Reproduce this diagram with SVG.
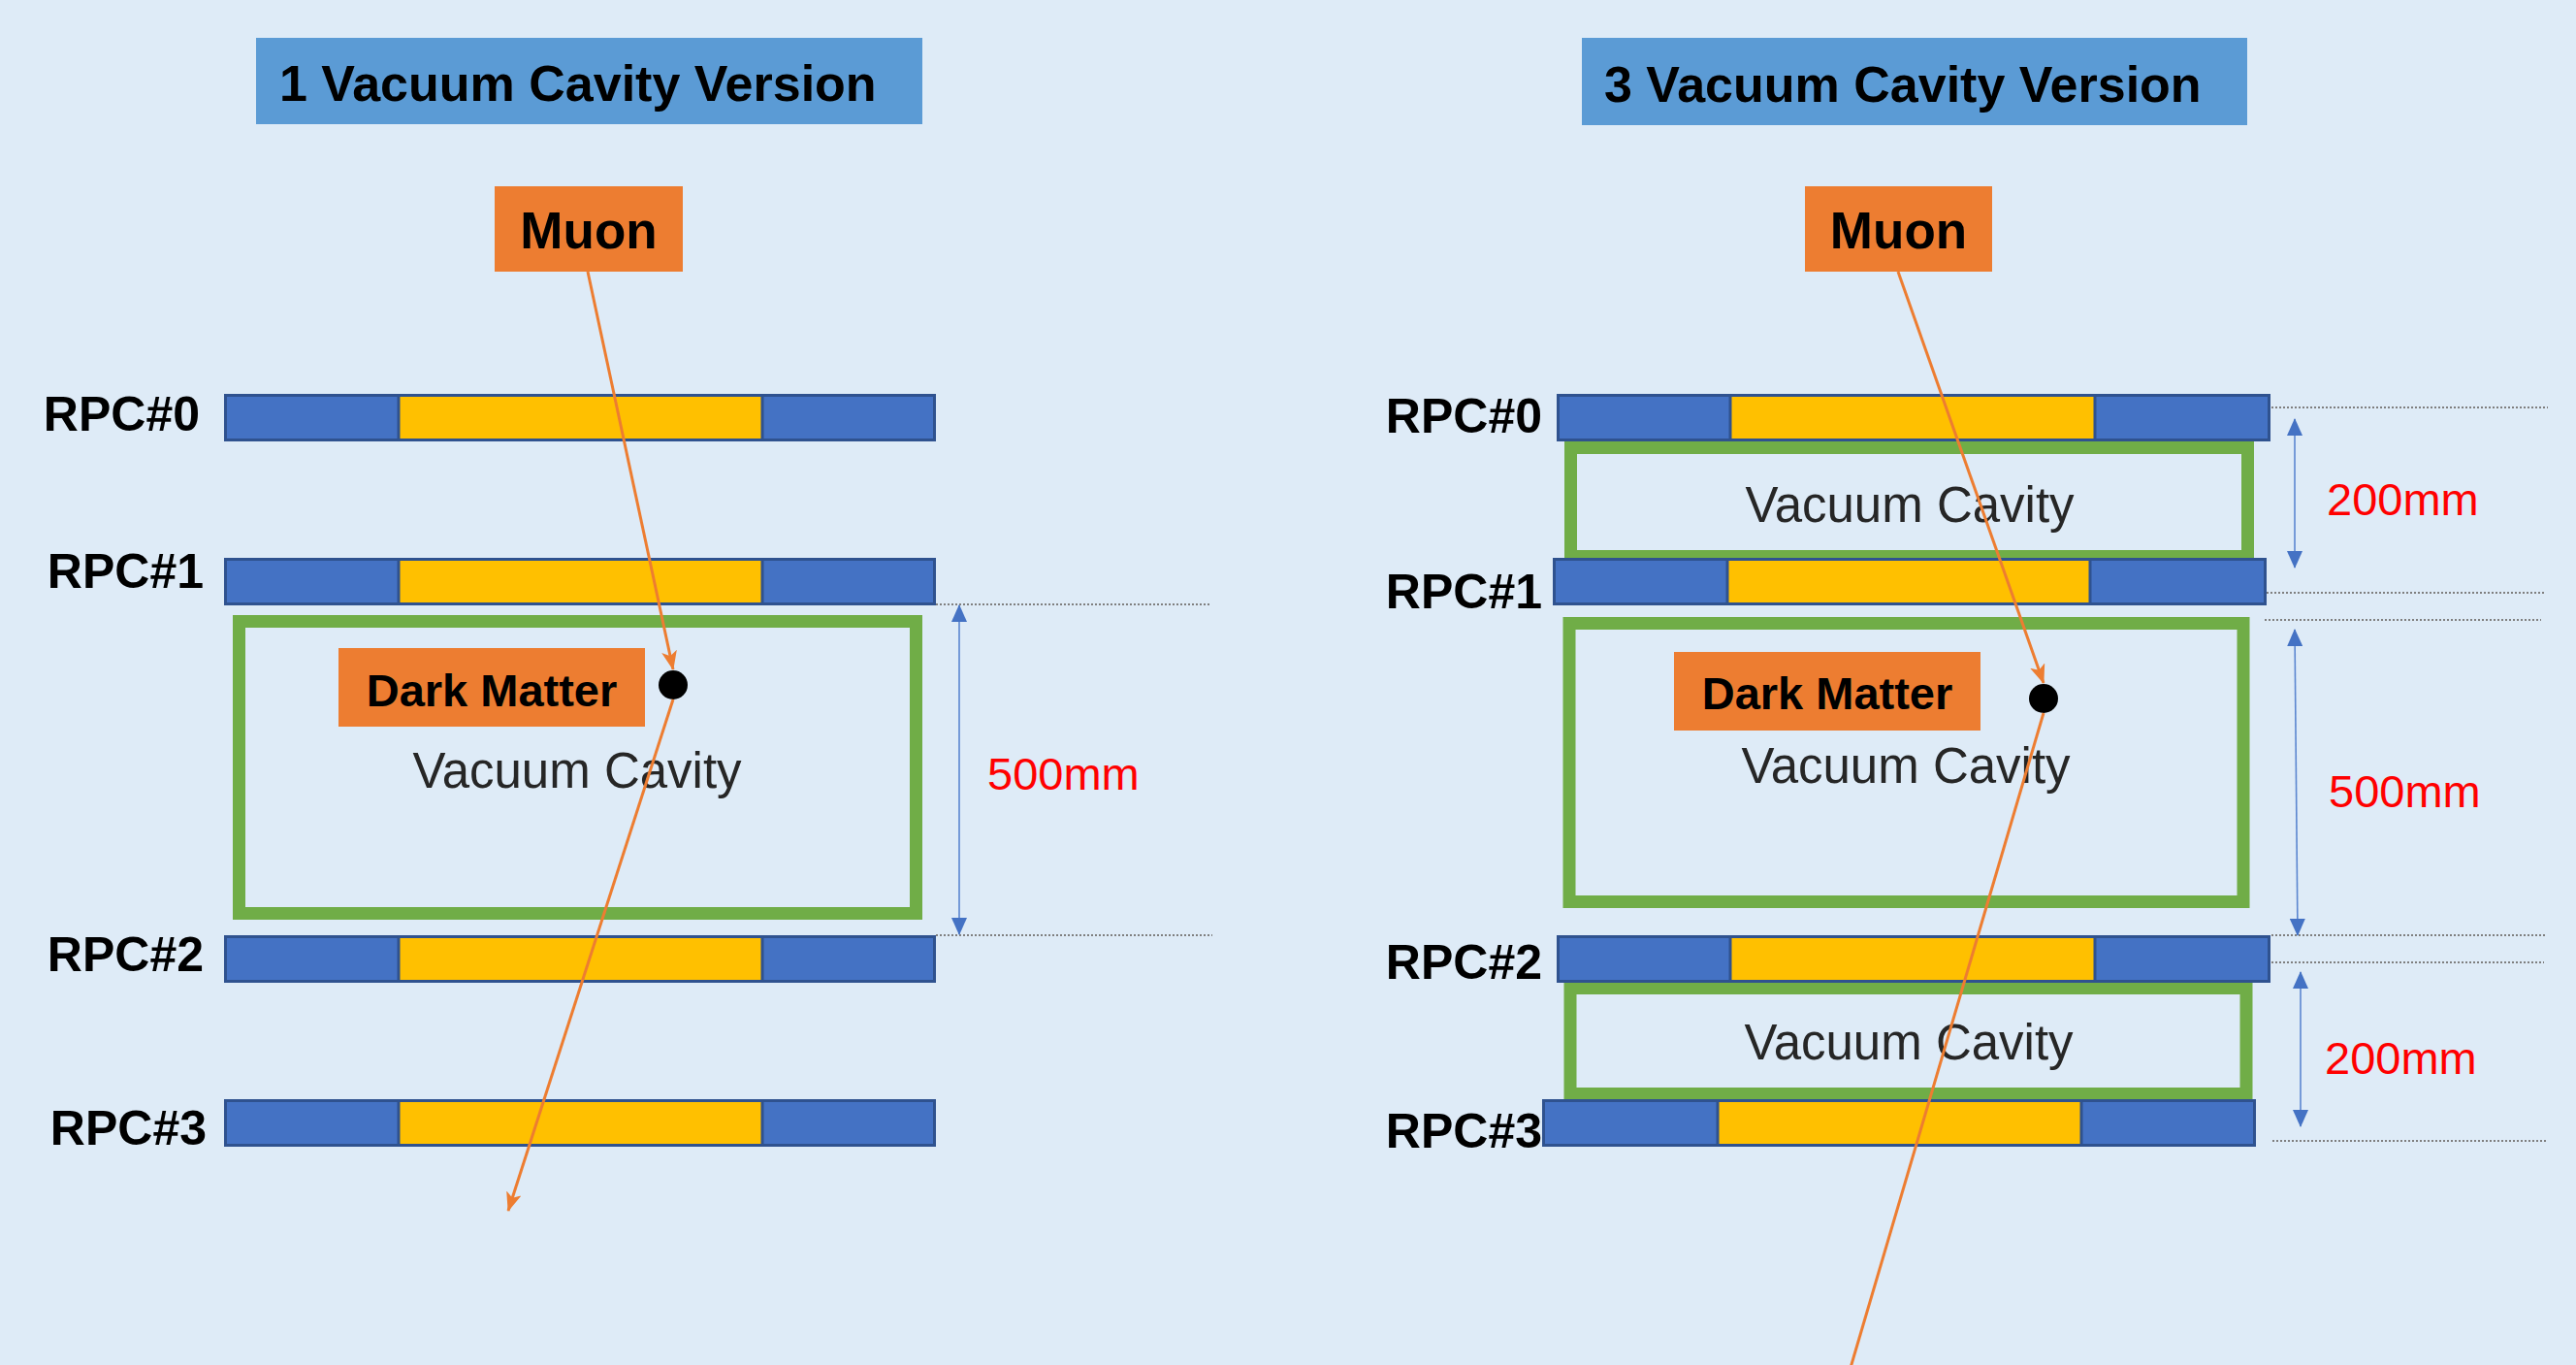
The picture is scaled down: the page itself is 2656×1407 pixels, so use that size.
<svg xmlns="http://www.w3.org/2000/svg" width="2656" height="1407" viewBox="0 0 2656 1407">
<style>
.bg{fill:#DEEBF7}
.title{fill:#5B9BD5}
.tt{font-family:"Liberation Sans",Arial,sans-serif;font-weight:bold;font-size:52px;fill:#000}
.ob{fill:#ED7D31}
.ot{font-family:"Liberation Sans",Arial,sans-serif;font-weight:bold;fill:#000;text-anchor:middle}
.rl{font-family:"Liberation Sans",Arial,sans-serif;font-weight:bold;font-size:50px;fill:#000;text-anchor:end}
.rb{fill:#4472C4;stroke:#2F528F;stroke-width:3}
.ry{fill:#FFC000;stroke:#2F528F;stroke-width:3}
.cav{fill:none;stroke:#70AD47;stroke-width:13}
.vc{font-family:"Liberation Sans",Arial,sans-serif;font-size:51px;fill:#262626;text-anchor:middle}
.mm{font-family:"Liberation Sans",Arial,sans-serif;font-size:47px;fill:#FF0000}
.dot{stroke:#7F7F7F;stroke-width:2;stroke-dasharray:2 2;fill:none}
.dim{stroke:#5B86D0;stroke-width:1.6;fill:none;marker-start:url(#ba);marker-end:url(#ba)}
.mu{stroke:#ED7D31;stroke-width:3;fill:none}
</style>
<defs>
<marker id="oa" markerUnits="userSpaceOnUse" markerWidth="20" markerHeight="16" viewBox="0 0 20 16" refX="19" refY="8" orient="auto"><path d="M0,0 L20,8 L0,16 L5,8 z" fill="#ED7D31"/></marker>
<marker id="ba" markerUnits="userSpaceOnUse" markerWidth="18" markerHeight="16" viewBox="0 0 18 16" refX="17" refY="8" orient="auto-start-reverse"><path d="M0,0 L18,8 L0,16 z" fill="#4472C4"/></marker>
</defs>
<rect class="bg" x="0" y="0" width="2656" height="1407"/>

<!-- LEFT PANEL -->
<g id="title-left"><rect class="title" x="264" y="39" width="687" height="89"/><text class="tt" x="288" y="104">1 Vacuum Cavity Version</text></g>
<g id="muon-left"><rect class="ob" x="510" y="192" width="194" height="88"/><text class="ot" x="607" y="256" font-size="53">Muon</text></g>
<g id="cavity-left"><rect class="cav" x="246.5" y="640.5" width="698" height="301"/><text class="vc" x="595" y="812">Vacuum Cavity</text></g>
<g id="dm-left"><rect class="ob" x="349" y="668" width="316" height="81"/><text class="ot" x="507" y="728" font-size="47">Dark Matter</text><circle cx="694" cy="706" r="15" fill="#000"/></g>
<g id="rpc0-left"><rect class="rb" x="232.5" y="407.5" width="731" height="46"/><rect class="ry" x="411" y="407.5" width="375" height="46"/><text class="rl" x="206" y="444">RPC#0</text></g>
<g id="rpc1-left"><rect class="rb" x="232.5" y="576.5" width="731" height="46"/><rect class="ry" x="411" y="576.5" width="375" height="46"/><text class="rl" x="210" y="606">RPC#1</text></g>
<g id="rpc2-left"><rect class="rb" x="232.5" y="965.5" width="731" height="46"/><rect class="ry" x="411" y="965.5" width="375" height="46"/><text class="rl" x="210" y="1001">RPC#2</text></g>
<g id="rpc3-left"><rect class="rb" x="232.5" y="1134.5" width="731" height="46"/><rect class="ry" x="411" y="1134.5" width="375" height="46"/><text class="rl" x="213" y="1180">RPC#3</text></g>
<g id="dim-left">
<line class="dot" x1="965" y1="623" x2="1248" y2="623"/>
<line class="dot" x1="965" y1="964" x2="1250" y2="964"/>
<line class="dim" x1="989" y1="624" x2="989" y2="963"/>
<text class="mm" x="1018" y="814">500mm</text>
</g>

<!-- RIGHT PANEL -->
<g id="title-right"><rect class="title" x="1631" y="39" width="686" height="90"/><text class="tt" x="1654" y="105">3 Vacuum Cavity Version</text></g>
<g id="muon-right"><rect class="ob" x="1861" y="192" width="193" height="88"/><text class="ot" x="1957.5" y="256" font-size="53">Muon</text></g>
<g id="cavity-top-right"><rect class="cav" x="1619.5" y="461.5" width="698" height="112"/><text class="vc" x="1969" y="538">Vacuum Cavity</text></g>
<g id="cavity-mid-right"><rect class="cav" x="1618" y="642.5" width="695" height="287"/><text class="vc" x="1965" y="807">Vacuum Cavity</text></g>
<g id="cavity-bot-right"><rect class="cav" x="1619" y="1018.5" width="697" height="109"/><text class="vc" x="1968" y="1092">Vacuum Cavity</text></g>
<g id="dm-right"><rect class="ob" x="1726" y="672" width="316" height="81"/><text class="ot" x="1884" y="731" font-size="47">Dark Matter</text><circle cx="2107" cy="720" r="15" fill="#000"/></g>
<g id="rpc0-right"><rect class="rb" x="1606.5" y="407.5" width="733" height="46"/><rect class="ry" x="1784" y="407.5" width="376" height="46"/><text class="rl" x="1590" y="446">RPC#0</text></g>
<g id="rpc1-right"><rect class="rb" x="1602.5" y="576.5" width="733" height="46"/><rect class="ry" x="1781" y="576.5" width="374" height="46"/><text class="rl" x="1590" y="627">RPC#1</text></g>
<g id="rpc2-right"><rect class="rb" x="1606.5" y="965.5" width="733" height="46"/><rect class="ry" x="1784" y="965.5" width="376" height="46"/><text class="rl" x="1590" y="1009">RPC#2</text></g>
<g id="rpc3-right"><rect class="rb" x="1591.5" y="1134.5" width="733" height="46"/><rect class="ry" x="1771" y="1134.5" width="375" height="46"/><text class="rl" x="1590" y="1183">RPC#3</text></g>
<g id="dim-right">
<line class="dot" x1="2342" y1="420" x2="2627" y2="420"/>
<line class="dot" x1="2337" y1="611" x2="2623" y2="611"/>
<line class="dot" x1="2335" y1="639" x2="2620" y2="639"/>
<line class="dot" x1="2342" y1="964" x2="2626" y2="964"/>
<line class="dot" x1="2342" y1="992" x2="2623" y2="992"/>
<line class="dot" x1="2343" y1="1176" x2="2627" y2="1176"/>
<line class="dim" x1="2366" y1="432" x2="2366" y2="585"/>
<line class="dim" x1="2366" y1="649" x2="2369" y2="964"/>
<line class="dim" x1="2372" y1="1002" x2="2372" y2="1161"/>
<text class="mm" x="2399" y="531">200mm</text>
<text class="mm" x="2401" y="832">500mm</text>
<text class="mm" x="2397" y="1107">200mm</text>
</g>

<!-- CONNECTORS -->
<g id="connectors">
<line class="mu" x1="606" y1="280" x2="694" y2="690" marker-end="url(#oa)"/>
<line class="mu" x1="694" y1="721" x2="524" y2="1248" marker-end="url(#oa)"/>
<line class="mu" x1="1957" y1="280" x2="2107" y2="704" marker-end="url(#oa)"/>
<line class="mu" x1="2107" y1="735" x2="1905" y2="1420"/>
</g>
</svg>
